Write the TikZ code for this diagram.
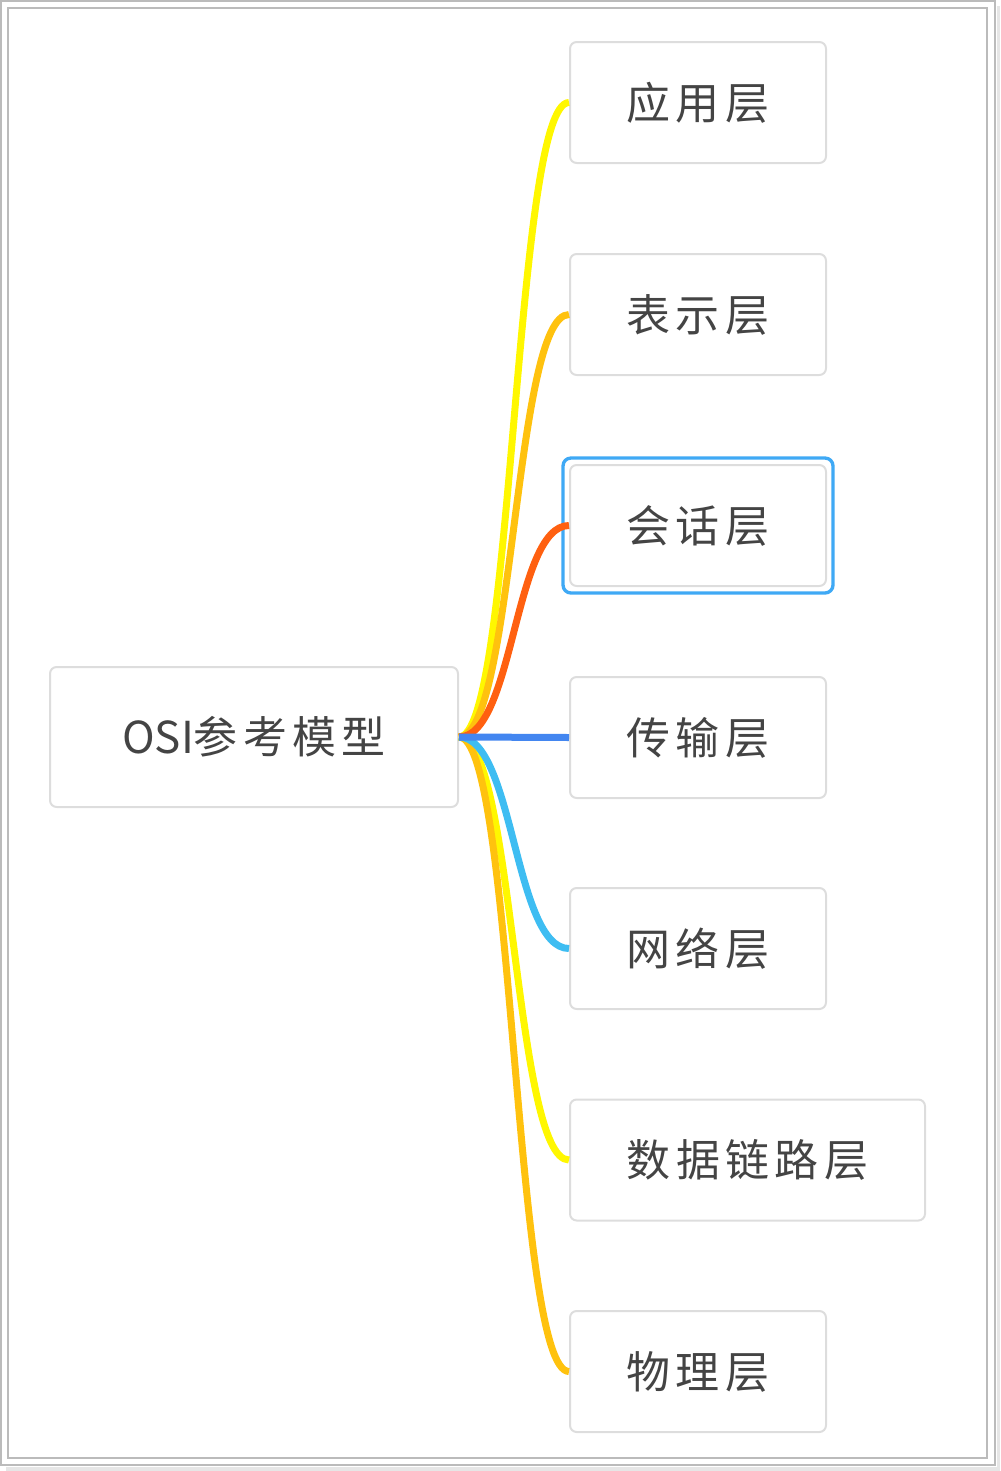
\documentclass[tikz,border=0pt]{standalone}
\usepackage{fontspec}
\usetikzlibrary{calc}
\newfontfamily\cjk[LetterSpace=12]{Noto Sans CJK SC}
\newfontfamily\lat{Noto Sans CJK SC}
\definecolor{boxgray}{HTML}{DDDDDD}
\definecolor{txtgray}{HTML}{444444}
\definecolor{framegray}{HTML}{BBBBBB}
\definecolor{shadegray}{HTML}{E6E6E6}
\definecolor{selblue}{HTML}{3FA9F5}
\definecolor{cyellow}{HTML}{FFF700}
\definecolor{camber}{HTML}{FFC20E}
\definecolor{corange}{HTML}{FF6010}
\definecolor{cblue}{HTML}{4386F0}
\definecolor{csky}{HTML}{3EBDF2}

\tikzset{box/.style={draw=boxgray,line width=1.5pt,rounded corners=5pt,fill=white,
  minimum width=192pt,minimum height=90.75pt,text=txtgray,
  font=\cjk\fontsize{33}{33}\selectfont}}
\tikzset{sel/.style={draw=selblue,line width=2.5pt,rounded corners=6pt}}
\tikzset{br/.style={line width=5.25pt,line cap=butt}}

\begin{document}
\begin{tikzpicture}[x=0.75pt,y=-0.75pt]
  \useasboundingbox (0,0) rectangle (1000,1471);
  % frame
  \fill[shadegray] (997,6) rectangle (1000,1468);
  \fill[shadegray] (6,1467) rectangle (1000,1471);
  \draw[framegray,line width=1.5pt] (1,1) rectangle (995,1465);
  \draw[framegray,line width=1.5pt] (8,8) rectangle (987,1458);

  % layers
  \node[box,minimum width=306pt,minimum height=105pt] (root) at (254,737) {{\lat OSI}参考模型};
  \node[box] (l1) at (698,102.5) {应用层};
  \node[box] (l2) at (698,314.5) {表示层};
  \node[box] (l3) at (698,525.5) {会话层};
  \node[box] (l4) at (698,737.5) {传输层};
  \node[box] (l5) at (698,948.5) {网络层};
  \node[box,minimum width=266.25pt] (l6) at (747.5,1160) {数据链路层};
  \node[box] (l7) at (698,1371.5) {物理层};

  % selection
  \draw[sel] ($(l3.north west)+(-6,-6)$) rectangle ($(l3.south east)+(6,6)$);

  % branches
  \foreach \n/\col in {l1/cyellow,l2/camber,l6/cyellow,l7/camber,l5/csky,l3/corange}
    \draw[br,\col] (root.east) .. controls +(55,0) and +(-55,0) .. (\n.west);
  \draw[br,cblue] (root.east) -- (l4.west);
\end{tikzpicture}
\end{document}
